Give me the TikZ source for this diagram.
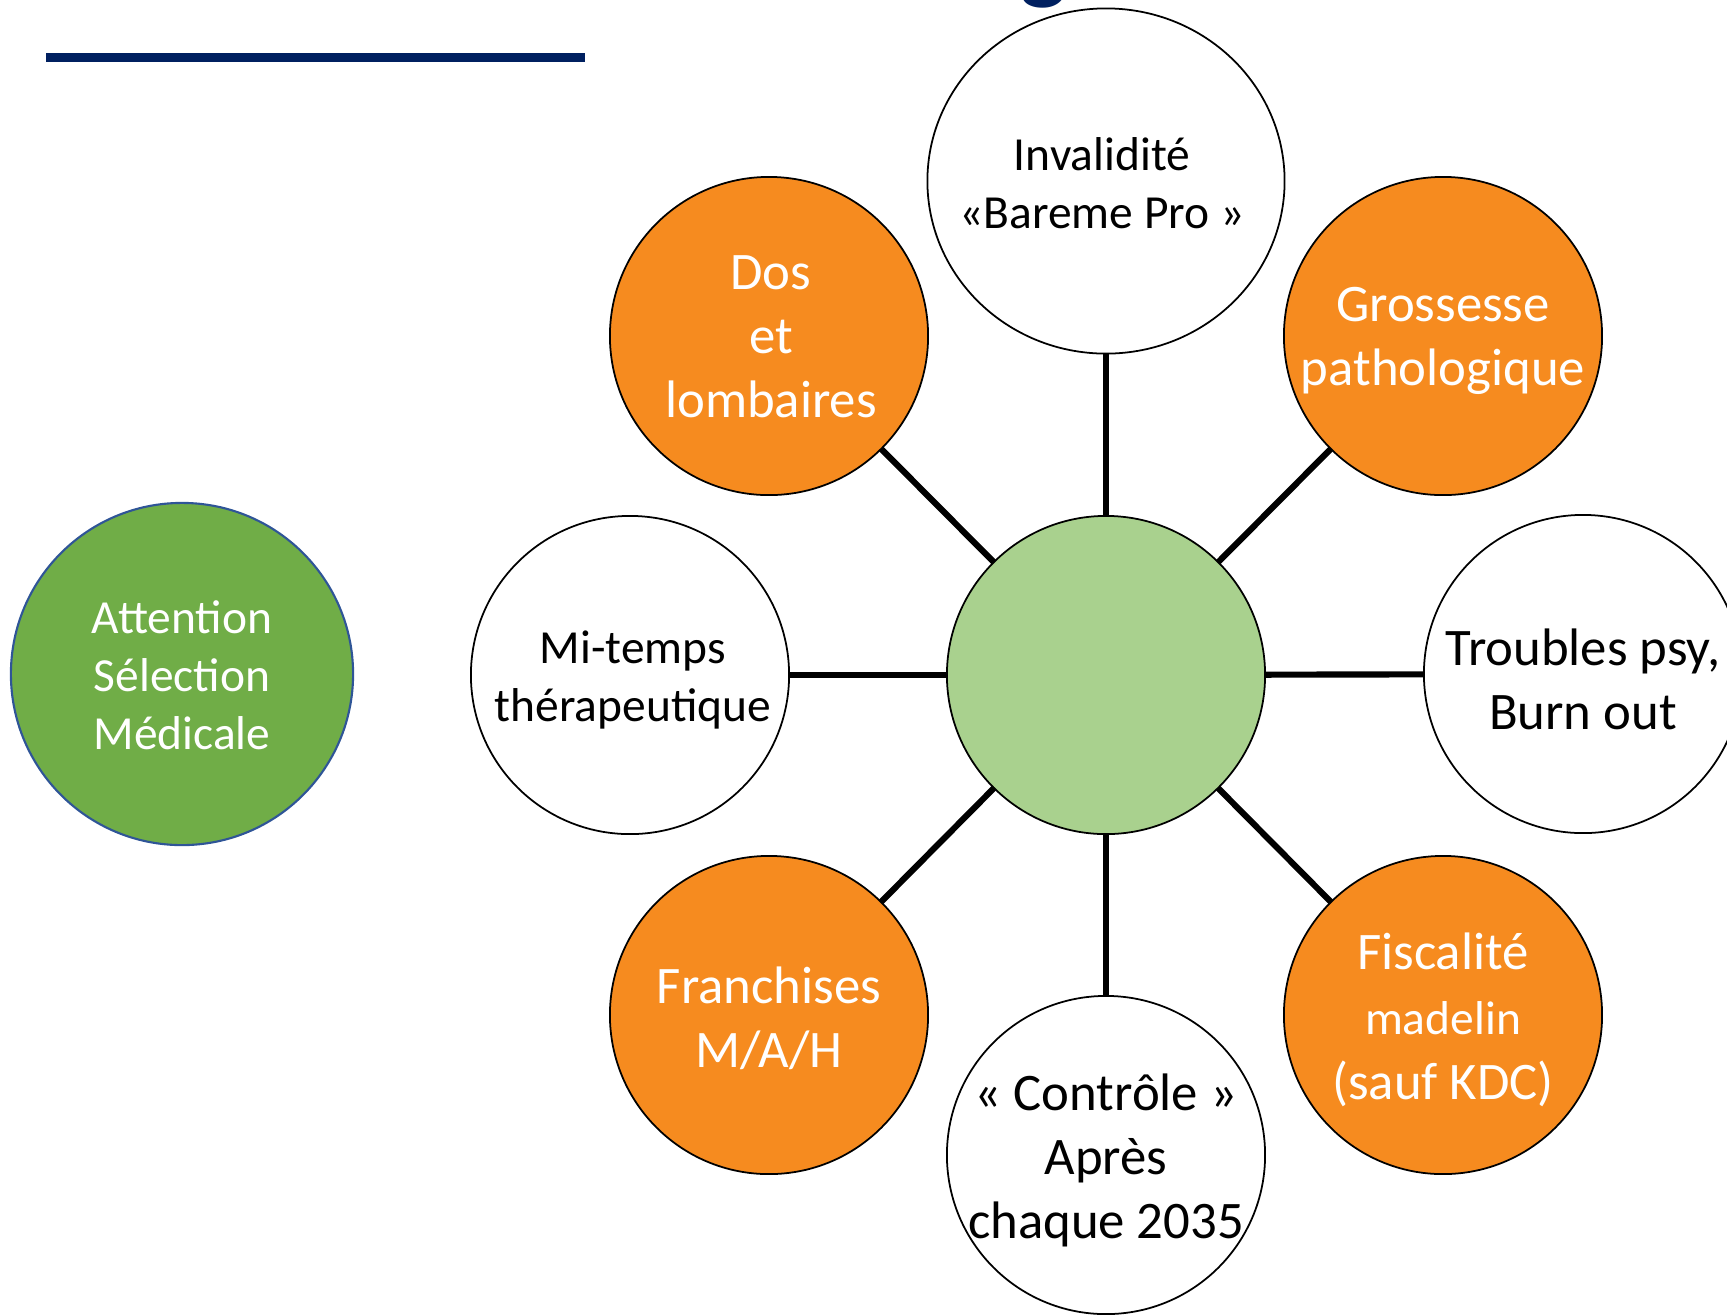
\documentclass[tikz,border=0pt]{standalone}
\usepackage{fontspec}
\setmainfont{Carlito}
\usetikzlibrary{shapes.geometric}
\definecolor{orangeB}{RGB}{246,139,31}
\definecolor{vertC}{RGB}{169,209,142}
\definecolor{vertF}{RGB}{112,173,71}
\definecolor{bleuB}{RGB}{47,85,151}
\definecolor{marine}{RGB}{0,32,96}
\newcommand{\pt}{\fontsize{13.5}{16.5}\selectfont}
\newcommand{\gd}{\fontsize{15}{18.2}\selectfont}
\begin{document}
\begin{tikzpicture}[x=0.01cm,y=-0.01cm,
	bulle/.style={circle,draw=black,line width=0.5pt,minimum size=3.18cm,inner sep=0pt,outer sep=0pt},
	bulleOr/.style={bulle,fill=orangeB},
	bulleBl/.style={bulle,fill=white},
	txtN/.style={text=black,align=center,font=\pt,yshift=-0.05cm},
	txtW/.style={text=white,align=center,font=\gd,yshift=-0.05cm},
	lien/.style={line width=1.75pt}]
		\useasboundingbox (0,0) rectangle (1727,1314);
		\clip (0,0) rectangle (1727,1314);
		% titre (coupe en haut)
		\node[anchor=south,inner sep=0pt,text=marine,font=\fontsize{28}{34}\selectfont\bfseries] (titre) at (1044,9) {g};
		\draw[marine,line width=2.6pt] (46,57.5) -- (585,57.5);
		% bulles
		\node[bulle,fill=vertC] (centre) at (1106,675) {};
		\node[ellipse,draw=black,line width=0.5pt,fill=white,minimum width=3.57cm,minimum height=3.45cm,inner sep=0pt,outer sep=0pt] (inval) at (1106,181) {};
		\node[bulleOr] (dos) at (769,336) {};
		\node[bulleOr] (gross) at (1443,336) {};
		\node[bulleBl] (mitemps) at (630,675) {};
		\node[bulleBl] (psy) at (1583,674) {};
		\node[bulleOr] (franch) at (769,1015) {};
		\node[bulleOr] (fisc) at (1443,1015) {};
		\node[bulleBl] (ctrl) at (1106,1155) {};
		\node[circle,draw=bleuB,line width=0.6pt,fill=vertF,minimum size=3.42cm,inner sep=0pt] (attn) at (182,674) {};
		% liens
		\foreach \b in {inval,dos,gross,mitemps,psy,franch,fisc,ctrl}
			\draw[lien] (centre) -- (\b);
		% textes
		\node[txtN,yshift=0.03cm] (tinval) at (1102,181) {Invalidité\\«Bareme Pro »};
		\node[txtW,yshift=0.04cm] (tdos) at (771,336) {Dos\\et\\lombaires};
		\node[txtW] (tgross) at (gross) {Grossesse\\pathologique};
		\node[txtN] (tmitemps) at (633,675) {Mi-temps\\thérapeutique};
		\node[txtN,font=\gd] (tpsy) at (psy) {Troubles psy,\\Burn out};
		\node[txtW,yshift=0.02cm] (tfranch) at (franch) {Franchises\\M/A/H};
		\node[txtW,font=\fontsize{15}{18.5}\selectfont] (tfisc) at (fisc) {Fiscalité\\{\pt madelin}\\(sauf KDC)};
		\node[txtN,font=\gd] (tctrl) at (ctrl) {« Contrôle »\\Après\\chaque 2035};
		\node[txtW,font=\pt,yshift=0.04cm] (tattn) at (attn) {Attention\\Sélection\\Médicale};

\end{tikzpicture}
\end{document}
